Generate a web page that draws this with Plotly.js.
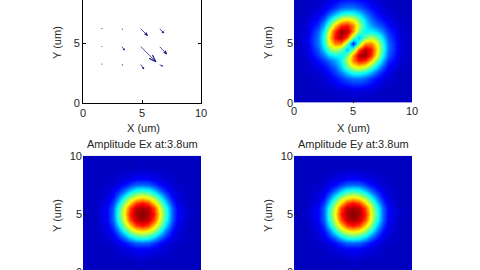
<!DOCTYPE html>
<html><head><meta charset="utf-8">
<script src="https://cdn.plot.ly/plotly-3.0.1.min.js"></script>
<style>
html,body{margin:0;padding:0;width:480px;height:270px;overflow:hidden;background:#fff;}
#plot{position:absolute;left:0;top:-40px;width:480px;height:330px;}
</style></head><body><div id="plot"></div>
<script>
// grid coordinates (um) for the field maps
const gridX = [0,1,2,2.5,3,3.5,4,4.5,5,5.5,6,6.5,7,7.5,8,9,10];
const gridY = [0,1,2,2.5,3,3.5,4,4.5,5,5.5,6,6.5,7,7.5,8,9,10];

// top-right map (two lobes), rows follow gridY
const topField = [
 [3,3,3,3,3,3,3,3,3,3,3,3,3,3,3,3,3],
 [3,3,3,3,4,4,5,5,6,6,5,5,4,3,3,3,3],
 [3,3,4,5,7,10,14,18,21,21,19,14,10,7,5,3,3],
 [3,3,5,7,10,15,22,31,38,39,35,27,18,11,7,3,3],
 [3,4,7,10,14,20,31,46,59,64,59,46,31,18,10,4,3],
 [3,4,10,15,20,26,35,54,74,86,83,67,46,27,14,5,3],
 [3,5,14,22,31,35,35,46,73,95,98,83,59,35,19,5,3],
 [3,5,18,31,46,54,46,28,47,80,95,86,64,39,21,6,3],
 [3,6,21,38,59,74,73,47,10,47,73,74,59,38,21,6,3],
 [3,6,21,39,64,86,95,80,47,28,46,54,46,31,18,5,3],
 [3,5,19,35,59,83,98,95,73,46,35,35,31,22,14,5,3],
 [3,5,14,27,46,67,83,86,74,54,35,26,20,15,10,4,3],
 [3,4,10,18,31,46,59,64,59,46,31,20,14,10,7,4,3],
 [3,3,7,11,18,27,35,39,38,31,22,15,10,7,5,3,3],
 [3,3,5,7,10,14,19,21,21,18,14,10,7,5,4,3,3],
 [3,3,3,3,4,5,5,6,6,5,5,4,4,3,3,3,3],
 [3,3,3,3,3,3,3,3,3,3,3,3,3,3,3,3,3]
];

// Amplitude Ex at 3.8um
const ampEx = [
 [3,3,3,3,3,3,3,3,3,3,3,3,3,3,3,3,3],
 [3,3,3,3,3,3,3,3,4,3,3,3,3,3,3,3,3],
 [3,3,3,4,5,6,7,9,9,9,7,6,5,4,3,3,3],
 [3,3,4,5,7,10,15,19,20,19,15,10,7,5,4,3,3],
 [3,3,5,7,12,20,30,38,40,38,30,20,12,7,5,3,3],
 [3,3,6,10,20,35,49,57,61,57,49,35,20,10,6,3,3],
 [3,3,7,15,30,49,65,80,85,80,65,49,30,15,7,3,3],
 [3,3,9,19,38,57,80,93,96,93,80,57,38,19,9,3,3],
 [3,4,9,20,40,61,85,96,100,96,85,61,40,20,9,4,3],
 [3,3,9,19,38,57,80,93,96,93,80,57,38,19,9,3,3],
 [3,3,7,15,30,49,65,80,85,80,65,49,30,15,7,3,3],
 [3,3,6,10,20,35,49,57,61,57,49,35,20,10,6,3,3],
 [3,3,5,7,12,20,30,38,40,38,30,20,12,7,5,3,3],
 [3,3,4,5,7,10,15,19,20,19,15,10,7,5,4,3,3],
 [3,3,3,4,5,6,7,9,9,9,7,6,5,4,3,3,3],
 [3,3,3,3,3,3,3,3,4,3,3,3,3,3,3,3,3],
 [3,3,3,3,3,3,3,3,3,3,3,3,3,3,3,3,3]
];

// Amplitude Ey at 3.8um
const ampEy = [
 [3,3,3,3,3,3,3,3,3,3,3,3,3,3,3,3,3],
 [3,3,3,3,3,3,3,3,4,3,3,3,3,3,3,3,3],
 [3,3,3,4,5,6,7,9,9,9,7,6,5,4,3,3,3],
 [3,3,4,5,7,10,15,19,20,19,15,10,7,5,4,3,3],
 [3,3,5,7,12,20,30,38,40,38,30,20,12,7,5,3,3],
 [3,3,6,10,20,35,49,57,61,57,49,35,20,10,6,3,3],
 [3,3,7,15,30,49,65,80,85,80,65,49,30,15,7,3,3],
 [3,3,9,19,38,57,80,93,96,93,80,57,38,19,9,3,3],
 [3,4,9,20,40,61,85,96,100,96,85,61,40,20,9,4,3],
 [3,3,9,19,38,57,80,93,96,93,80,57,38,19,9,3,3],
 [3,3,7,15,30,49,65,80,85,80,65,49,30,15,7,3,3],
 [3,3,6,10,20,35,49,57,61,57,49,35,20,10,6,3,3],
 [3,3,5,7,12,20,30,38,40,38,30,20,12,7,5,3,3],
 [3,3,4,5,7,10,15,19,20,19,15,10,7,5,4,3,3],
 [3,3,3,4,5,6,7,9,9,9,7,6,5,4,3,3,3],
 [3,3,3,3,3,3,3,3,4,3,3,3,3,3,3,3,3],
 [3,3,3,3,3,3,3,3,3,3,3,3,3,3,3,3,3]
];

// quiver (top-left): grid points and vector components (um), rows follow quiverY
const quiverX = [1.6, 3.3, 4.9, 6.5];
const quiverY = [3.2, 4.7, 6.2];
const quiverU = [
 [0.00, 0.05, 0.25, 0.23],
 [0.00, 0.22, 1.27, 0.59],
 [0.00, 0.05, 0.56, 0.34]
];
const quiverV = [
 [0.05, -0.05, -0.36, -0.14],
 [0.05, -0.28, -1.26, -0.61],
 [0.06, -0.05, -0.56, -0.34]
];

const tickVals = [0, 5, 10];
const tickText = ['0', '5', '10'];
const axisLabelX = 'X (um)';
const axisLabelY = 'Y (um)';
const titleEx = 'Amplitude Ex at:3.8um';
const titleEy = 'Amplitude Ey at:3.8um';

const jet = [[0,'rgb(0,0,143)'],[0.111,'rgb(0,0,255)'],[0.365,'rgb(0,255,255)'],
             [0.619,'rgb(255,255,0)'],[0.873,'rgb(255,0,0)'],[1,'rgb(128,0,0)']];
const FONT = 'Liberation Sans, Arial, sans-serif';
const TXT = '#262626';

function hm(z, xa, ya){
  return {type:'heatmap', x:gridX, y:gridY, z:z, zsmooth:'best', colorscale:jet,
          zmin:-2, zmax:100, showscale:false, xaxis:xa, yaxis:ya, hoverinfo:'skip'};
}

// quiver shafts and arrow heads (MATLAB-style barbs), in data units
const shaftX = [], shaftY = [], headX = [], headY = [];
const alpha = 0.33, beta = 0.33;
quiverY.forEach((y,i)=>quiverX.forEach((x,j)=>{
  const u = quiverU[i][j], v = quiverV[i][j];
  const tx = x + u, ty = y + v;
  shaftX.push(x, tx, null); shaftY.push(y, ty, null);
  headX.push(tx - alpha*(u + beta*v), tx, tx - alpha*(u - beta*v), null);
  headY.push(ty - alpha*(v - beta*u), ty, ty - alpha*(v + beta*u), null);
}));

const data = [
  {type:'scatter', mode:'lines', x:shaftX, y:shaftY, line:{color:'rgb(80,80,175)', width:1}, xaxis:'x', yaxis:'y', hoverinfo:'skip'},
  {type:'scatter', mode:'lines', x:headX, y:headY, line:{color:'rgb(35,35,120)', width:1.2}, xaxis:'x', yaxis:'y', hoverinfo:'skip'},
  hm(topField,'x2','y2'),
  hm(ampEx,'x3','y3'),
  hm(ampEy,'x4','y4')
];

function ax(domain, anchor, boxed){
  return {domain:domain, anchor:anchor, range:[0,10], tickvals:tickVals, ticktext:tickText,
    ticks:'inside', ticklen:3, tickwidth:1, tickcolor:'#000', showgrid:false, zeroline:false,
    showline:boxed, linecolor:'#000', linewidth:1, mirror: boxed ? 'ticks' : false,
    tickfont:{family:FONT, size:11, color:TXT}, fixedrange:true};
}
const dxL = [83/480, 201/480], dxR = [294/480, 412/480];
const dyT = [(290-102.7)/330, (290+16.5)/330], dyB = [(290-272.3)/330, (290-155.7)/330];

function lab(text, px, py, angle){
  return {xref:'paper', yref:'paper', x:px/480, y:(290-py)/330, text:text, showarrow:false,
    xanchor:'center', yanchor:'middle', textangle:angle||0, font:{family:FONT, size:11, color:TXT}};
}
const annotations = [lab(axisLabelX,143,128), lab(axisLabelX,353,128),
  lab(axisLabelY,57,43,-90), lab(axisLabelY,268,43,-90),
  lab(axisLabelY,57,216,-90), lab(axisLabelY,268,216,-90),
  lab(titleEx,142,144), lab(titleEy,353,144)];

const layout = {
  width:480, height:330, margin:{l:0,r:0,t:0,b:0,pad:0},
  paper_bgcolor:'#fff', plot_bgcolor:'#fff', showlegend:false,
  xaxis: ax(dxL,'y',true), yaxis: ax(dyT,'x',true),
  xaxis2: ax(dxR,'y2',false), yaxis2: ax(dyT,'x2',false),
  xaxis3: ax(dxL,'y3',false), yaxis3: ax(dyB,'x3',false),
  xaxis4: ax(dxR,'y4',false), yaxis4: ax(dyB,'x4',false),
  annotations: annotations
};
Plotly.newPlot('plot', data, layout, {staticPlot:true, displayModeBar:false});
</script></body></html>
